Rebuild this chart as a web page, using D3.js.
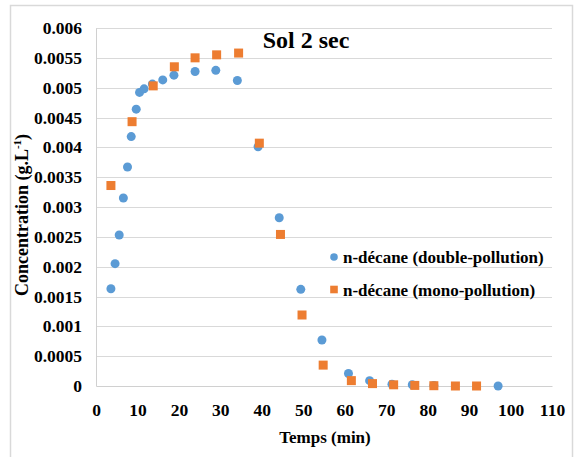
<!DOCTYPE html>
<html>
<head>
<meta charset="utf-8">
<script src="https://cdn.jsdelivr.net/npm/d3@7"></script>
<style>
  body { margin: 0; background: #fff; }
</style>
</head>
<body>
<div id="chart"></div>
<script>
// Data
const doubleTime = [3.6, 4.6, 5.6, 6.6, 7.6, 8.5, 9.7, 10.5, 11.6, 13.6, 16.1, 18.8, 23.9, 28.9, 34.1, 39.1, 44.2, 49.4, 54.5, 60.9, 66.0, 71.4, 76.3, 81.5, 97.0];
const doubleConc = [0.00163, 0.00205, 0.00253, 0.00315, 0.00367, 0.00418, 0.00464, 0.00492, 0.00498, 0.00506, 0.00513, 0.00521, 0.00527, 0.00529, 0.00512, 0.00401, 0.00282, 0.00162, 0.00077, 0.00021, 0.00009, 0.00003, 0.00002, 0.00001, 0.0];
const monoTime = [3.6, 8.7, 13.8, 18.9, 23.9, 29.1, 34.4, 39.4, 44.5, 49.7, 54.8, 61.6, 66.7, 71.8, 76.9, 81.5, 86.7, 91.8];
const monoConc = [0.00336, 0.00443, 0.00503, 0.00535, 0.0055, 0.00555, 0.00558, 0.00407, 0.00254, 0.00119, 0.00035, 0.00009, 0.00004, 0.00002, 0.00001, 0.000005, 0.0, 0.0];
const xTicks = [0, 10, 20, 30, 40, 50, 60, 70, 80, 90, 100, 110];
const yTicks = [0, 0.0005, 0.001, 0.0015, 0.002, 0.0025, 0.003, 0.0035, 0.004, 0.0045, 0.005, 0.0055, 0.006];
const yTickLabels = ["0", "0.0005", "0.001", "0.0015", "0.002", "0.0025", "0.003", "0.0035", "0.004", "0.0045", "0.005", "0.0055", "0.006"];
const seriesNames = ["n-décane (double-pollution)", "n-décane (mono-pollution)"];

const width = 575, height = 457;
const blue = "#5b9bd5", orange = "#ed7d31";
const serif = "'Liberation Serif', 'Times New Roman', Times, serif";

const svg = d3.select("#chart")
    .append("svg")
    .attr("width", width)
    .attr("height", height)
    .attr("font-family", serif)
    .attr("font-weight", "bold");

// chart frame
svg.append("rect")
    .attr("x", 10.5).attr("y", 5.5)
    .attr("width", 562).attr("height", 470)
    .attr("fill", "none")
    .attr("stroke", "#d9d9d9")
    .attr("stroke-width", 1.5);

const x = d3.scaleLinear().domain([0, 110]).range([96, 552]);
const y = d3.scaleLinear().domain([0, 0.006]).range([386, 28]);

// gridlines
svg.append("g")
    .selectAll("line")
    .data(yTicks.slice(1))
    .join("line")
    .attr("x1", x(0)).attr("x2", x(110))
    .attr("y1", d => Math.round(y(d)) + 0.5)
    .attr("y2", d => Math.round(y(d)) + 0.5)
    .attr("stroke", "#d9d9d9");

// y axis
const yAxis = svg.append("g")
    .attr("transform", `translate(${x(0)},0)`)
    .call(d3.axisLeft(y).tickValues(yTicks).tickSize(0).tickPadding(14)
        .tickFormat((d, i) => yTickLabels[i]));
yAxis.attr("font-family", serif).attr("font-size", 17.5);
yAxis.select(".domain").attr("stroke", "#d0d0d0");
yAxis.selectAll("text").attr("fill", "#000");

// x axis
const xAxis = svg.append("g")
    .attr("transform", `translate(0,${y(0)})`)
    .call(d3.axisBottom(x).tickValues(xTicks).tickSize(0).tickPadding(18));
xAxis.attr("font-family", serif).attr("font-size", 17.5);
xAxis.select(".domain").attr("stroke", "#d0d0d0");
xAxis.selectAll("text").attr("fill", "#000");

// axis titles
svg.append("text")
    .attr("x", 325).attr("y", 443)
    .attr("text-anchor", "middle")
    .attr("font-size", 17)
    .text("Temps (min)");

const yTitle = svg.append("text")
    .attr("transform", "translate(28,215) rotate(-90)")
    .attr("text-anchor", "middle")
    .attr("font-size", 18);
yTitle.append("tspan").text("Concentration (g.L");
yTitle.append("tspan").attr("font-size", 11).attr("dy", -7).text("-1");
yTitle.append("tspan").attr("dy", 7).text(")");

// title
svg.append("text")
    .attr("x", 306).attr("y", 48)
    .attr("text-anchor", "middle")
    .attr("font-size", 24)
    .text("Sol 2 sec");

// series
const doublePts = doubleTime.map((t, i) => ({ t, c: doubleConc[i] }));
const monoPts = monoTime.map((t, i) => ({ t, c: monoConc[i] }));

svg.append("g")
    .selectAll("circle")
    .data(doublePts)
    .join("circle")
    .attr("cx", d => x(d.t))
    .attr("cy", d => y(d.c))
    .attr("r", 4.5)
    .attr("fill", blue);

svg.append("g")
    .selectAll("rect")
    .data(monoPts)
    .join("rect")
    .attr("x", d => x(d.t) - 4.5)
    .attr("y", d => y(d.c) - 4.5)
    .attr("width", 9)
    .attr("height", 9)
    .attr("fill", orange);

// legend
const legend = svg.append("g").attr("transform", "translate(334,257)");
legend.append("circle").attr("cx", 0).attr("cy", 0).attr("r", 3.8).attr("fill", blue);
legend.append("rect").attr("x", -3.8).attr("y", 32.5 - 3.8).attr("width", 7.6).attr("height", 7.6).attr("fill", orange);
legend.selectAll("text.leg")
    .data(seriesNames)
    .join("text")
    .attr("class", "leg")
    .attr("x", 9)
    .attr("y", (d, i) => i * 32.5 + 6)
    .attr("font-size", 17)
    .text(d => d);
</script>
</body>
</html>
